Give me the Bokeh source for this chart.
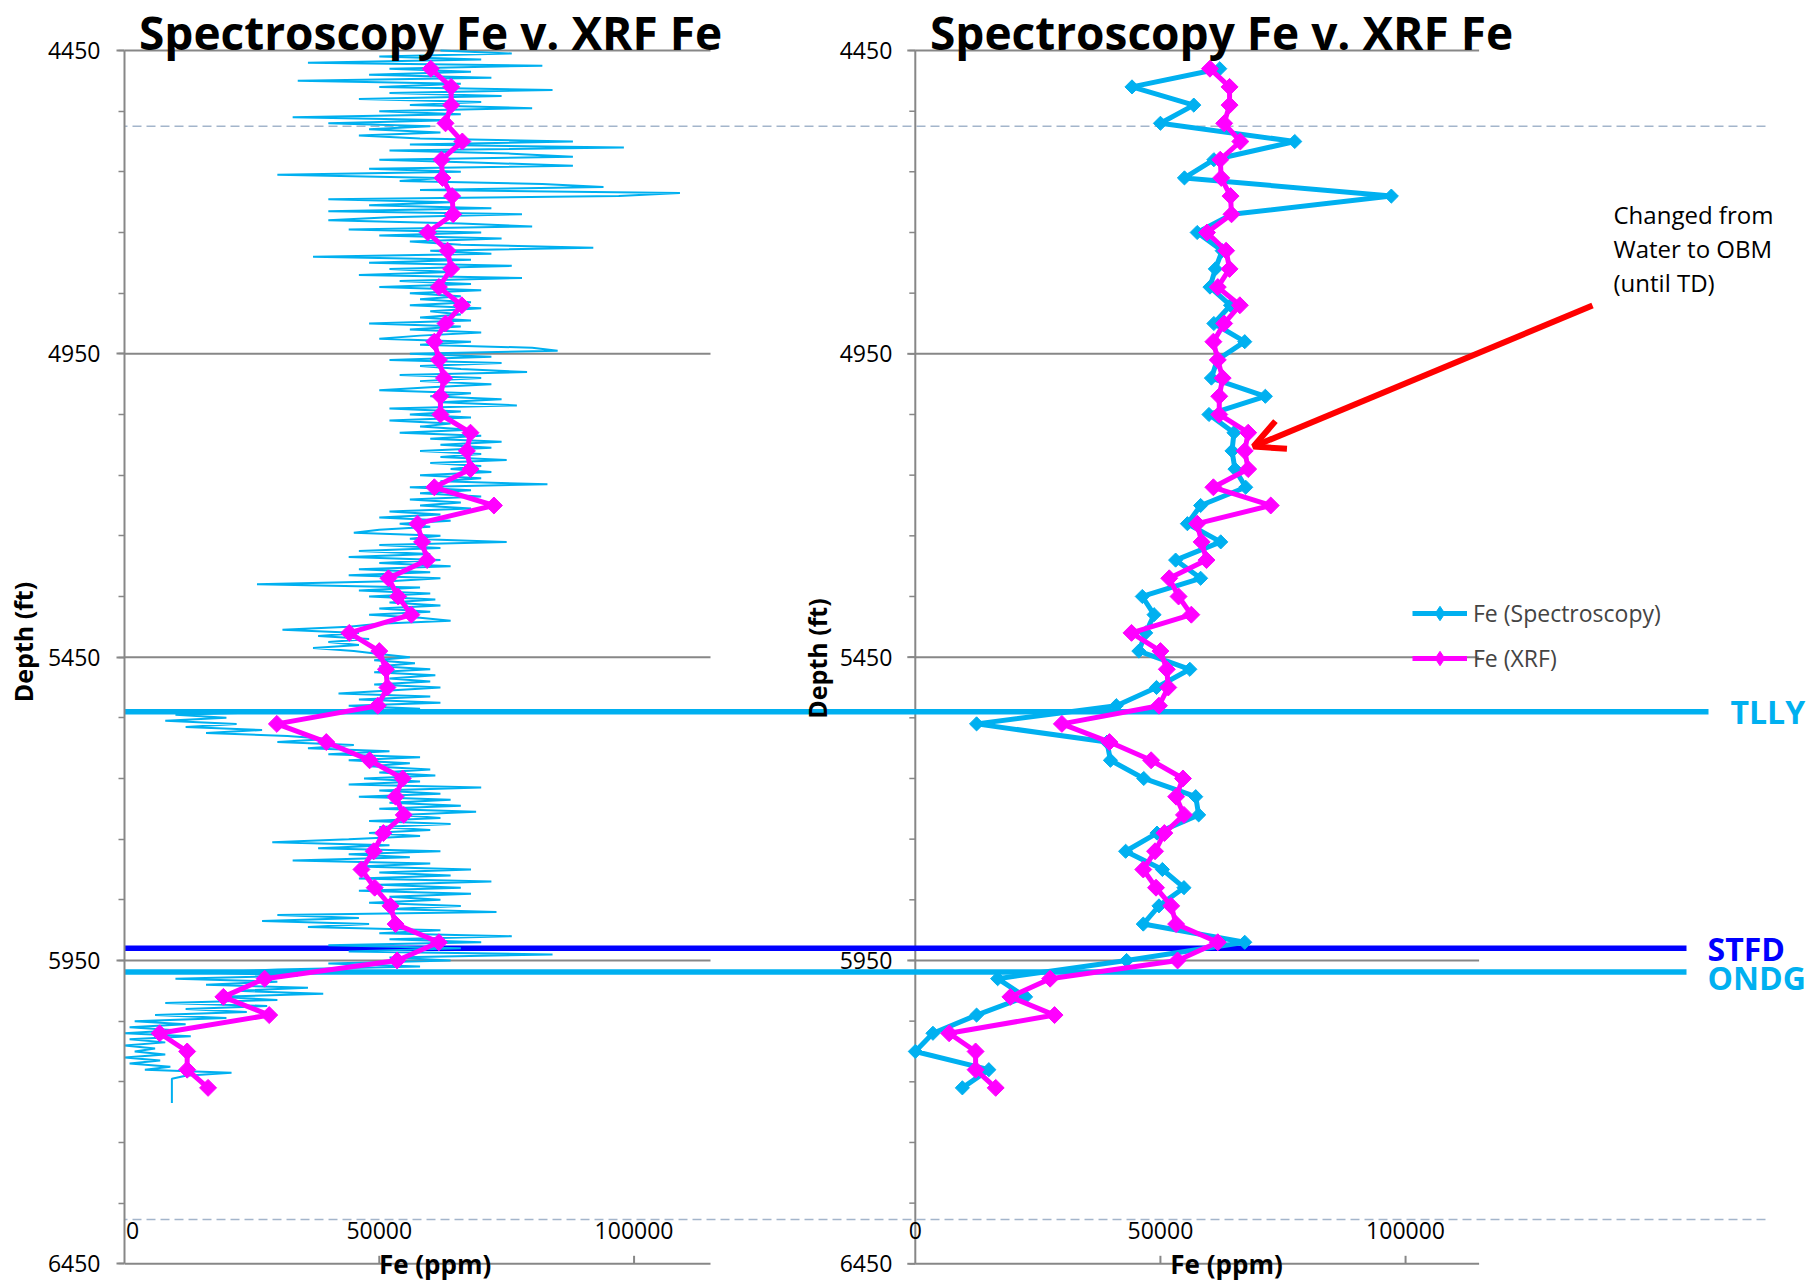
import numpy as np
from bokeh.plotting import figure
from bokeh.models import Range1d, FixedTicker, Legend, LegendItem, Arrow, OpenHead
from bokeh.core.properties import value
from bokeh.embed import file_html
from bokeh.resources import INLINE

# ---------------------------------------------------------------- data
X_MAX = 115000
X_TICKS = [0, 50000, 100000]
X_TICK_LABELS = ["0", "50000", "100000"]
Y_TICKS = [4450, 4950, 5450, 5950, 6450]
Y_TICK_LABELS = ["4450", "4950", "5450", "5950", "6450"]
Y_MINOR = list(range(4450, 6451, 100))

TITLE = "Spectroscopy Fe v. XRF Fe"
X_LABEL = "Fe (ppm)"
Y_LABEL = "Depth (ft)"

# XRF (cuttings) Fe, ppm
XRF_DEPTH = [4480, 4510, 4540, 4570, 4600, 4630, 4660, 4690, 4720, 4750,
             4780, 4810, 4840, 4870, 4900, 4930, 4960, 4990, 5020, 5050,
             5080, 5110, 5140, 5170, 5200, 5230, 5260, 5290, 5320, 5350,
             5380, 5410, 5440, 5470, 5500, 5530, 5560, 5590, 5620, 5650,
             5680, 5710, 5740, 5770, 5800, 5830, 5860, 5890, 5920, 5950,
             5980, 6010, 6040, 6070, 6100, 6130, 6160]
XRF_FE = [60100, 64100, 64100, 63000, 66300, 62200, 62400, 64300, 64500, 59500,
          63400, 64100, 61700, 66200, 63000, 60800, 61700, 62700, 62000, 62000,
          67900, 67200, 67900, 60800, 72500, 57500, 58400, 59400, 51800, 53700,
          56300, 44100, 50000, 51300, 51600, 49700, 29900, 39600, 48100, 54600,
          53200, 54800, 50800, 48900, 46500, 49100, 52200, 53200, 61700, 53500,
          27500, 19400, 28400, 6900, 12300, 12300, 16400]

# Spectroscopy Fe averaged at the XRF sample depths, ppm
SPEC_DEPTH = [4480, 4510, 4540, 4570, 4600, 4630, 4660, 4690, 4720, 4750,
              4780, 4810, 4840, 4870, 4900, 4930, 4960, 4990, 5020, 5050,
              5080, 5110, 5140, 5170, 5200, 5230, 5260, 5290, 5320, 5350,
              5380, 5410, 5440, 5470, 5500, 5530, 5560, 5590, 5620, 5650,
              5680, 5710, 5740, 5770, 5800, 5830, 5860, 5890, 5920, 5950,
              5980, 6010, 6040, 6070, 6100, 6130, 6160]
SPEC_FE = [62100, 44200, 56800, 50000, 77400, 60900, 54900, 97100, 64600, 57500,
           62600, 61200, 60100, 64300, 60900, 67200, 61600, 60400, 71400, 59900,
           65000, 64600, 65200, 67400, 58200, 55500, 62300, 53100, 58200, 46300,
           48700, 47000, 45600, 56000, 49200, 41000, 12500, 39100, 39800, 46600,
           57200, 57800, 49300, 42900, 50400, 54800, 49700, 46500, 67200, 43100,
           16800, 22500, 12500, 3600, 0, 15000, 9600]

# Continuous spectroscopy Fe log (one sample every 5 ft from 4450 ft), ppm
LOG_TOP = 4450
LOG_STEP = 5
LOG_FE = [
    62000, 76000, 50000, 70000, 36000, 82000, 52000, 68000, 48000, 72000,   # 4450
    34000, 66000, 50000, 84000, 52000, 74000, 46000, 70000, 56000, 80000,   # 4500
    50000, 66000, 33000, 64000, 40000, 60000, 48000, 62000, 46000, 58000,   # 4550
    88000, 56000, 98000, 52000, 76000, 88000, 50000, 70000, 88000, 48000,   # 4600
    66000, 30000, 62000, 54000, 82000, 94000, 58000, 109000, 97000, 40000,  # 4650
    64000, 48000, 72000, 40000, 78000, 52000, 40000, 66000, 80000, 44000,   # 4700
    70000, 50000, 74000, 56000, 66000, 92000, 60000, 72000, 37000, 68000,   # 4750
    48000, 76000, 52000, 64000, 46000, 78000, 54000, 68000, 50000, 70000,   # 4800
    56000, 66000, 58000, 68000, 56000, 70000, 60000, 66000, 58000, 68000,   # 4850
    48000, 66000, 56000, 70000, 58000, 50000, 68000, 58000, 80000, 85000,   # 4900
    56000, 72000, 52000, 74000, 58000, 66000, 79000, 54000, 70000, 58000,   # 4950
    72000, 60000, 50000, 68000, 60000, 74000, 62000, 77000, 52000, 66000,   # 5000
    56000, 68000, 52000, 64000, 58000, 68000, 54000, 70000, 60000, 74000,   # 5050
    62000, 72000, 58000, 70000, 62000, 75000, 60000, 70000, 64000, 72000,   # 5100
    58000, 70000, 62000, 83000, 56000, 68000, 58000, 70000, 56000, 66000,   # 5150
    58000, 68000, 52000, 62000, 50000, 64000, 54000, 60000, 50000, 45000,   # 5200
    62000, 56000, 75000, 50000, 62000, 46000, 60000, 44000, 62000, 50000,   # 5250
    64000, 46000, 60000, 44000, 62000, 52000, 26000, 58000, 46000, 60000,   # 5300
    48000, 61000, 52000, 62000, 50000, 60000, 48000, 58000, 64000, 50000,   # 5350
    44000, 31000, 46000, 38000, 48000, 40000, 46000, 37000, 45000, 50000,   # 5400
    56000, 49000, 57000, 50000, 60000, 49000, 61000, 52000, 60000, 49000,   # 5450
    62000, 52000, 42000, 60000, 46000, 62000, 44000, 58000, 30000, 10000,   # 5500
    20000, 8000, 22000, 12000, 27000, 16000, 32000, 40000, 30000, 45000,    # 5550
    36000, 52000, 40000, 58000, 44000, 56000, 48000, 60000, 50000, 61000,   # 5600
    47000, 58000, 44000, 70000, 50000, 62000, 46000, 64000, 52000, 66000,   # 5650
    50000, 69000, 54000, 62000, 48000, 64000, 50000, 60000, 48000, 58000,   # 5700
    44000, 29000, 52000, 38000, 62000, 44000, 56000, 33000, 60000, 46000,   # 5750
    68000, 50000, 64000, 46000, 72000, 50000, 66000, 46000, 68000, 52000,   # 5800
    62000, 48000, 66000, 52000, 73000, 30000, 46000, 27000, 48000, 36000,   # 5850
    62000, 50000, 76000, 52000, 70000, 40000, 66000, 44000, 84000, 52000,   # 5900
    64000, 40000, 58000, 30000, 16000, 34000, 10000, 30000, 16000, 36000,   # 5950
    22000, 39000, 18000, 30000, 8000, 28000, 12000, 24000, 6000, 20000,     # 6000
    2000, 12000, 1000, 10000, 0, 13000, 1000, 8000, 0, 6000,                # 6050
    2000, 8000, 0, 7000, 1000, 9000, 4000, 21000, 12000, 9300,              # 6100
    9300, 9300, 9300, 9300, 9300, 9300, 9300, 9300,                         # 6150
]

FORMATIONS = ["TLLY", "STFD", "ONDG"]
FORMATION_DEPTH = [5540, 5930, 5969]
GUIDE_DEPTH = [4575, 6377]

SERIES_NAMES = ["Fe (Spectroscopy)", "Fe (XRF)"]
NOTE_LINES = ["Changed from", "Water to OBM", "(until TD)"]

# ---------------------------------------------------------------- styles / layout
CYAN = "#00b0f0"
MAGENTA = "#ff00ff"
DEEP_BLUE = "#0000ff"
GRAY = "#878787"
GUIDE = "#a3b5cb"
FORMATION_COLOR = [CYAN, DEEP_BLUE, CYAN]
FONT = "Open Sans"

# the page template has no body margin: canvas origin = page origin
W, H = 1814, 1283
BORDER_LEFT = 124
FRAME_L, FRAME_R = BORDER_LEFT, W
FRAME_T, FRAME_B = 0, H

# reference-picture geometry of the two panels (page pixels)
L_X0, L_X1 = 124.0, 710.0
R_X0, R_X1 = 914.8, 1478.6
Y_PX0, Y_PX1 = 50.0, 1263.3
D0, D1 = Y_TICKS[0], Y_TICKS[-1]


def lx(px):
    return (px - L_X0) * X_MAX / (L_X1 - L_X0)


def rx(px):
    return (px - R_X0) * X_MAX / (R_X1 - R_X0)


def dpt(py):
    return D0 + (py - Y_PX0) * (D1 - D0) / (Y_PX1 - Y_PX0)


p = figure(width=W, height=H,
           x_range=Range1d(lx(FRAME_L), lx(FRAME_R)),
           y_range=Range1d(dpt(FRAME_B), dpt(FRAME_T)),
           output_backend="svg", toolbar_location=None,
           x_axis_location=None, y_axis_location="left",
           min_border_left=BORDER_LEFT, min_border_right=0,
           min_border_top=0, min_border_bottom=0)
p.extra_x_ranges = {"right": Range1d(rx(FRAME_L), rx(FRAME_R))}
p.outline_line_color = None
p.grid.visible = False
p.background_fill_color = "white"
p.border_fill_color = "white"

# real depth axis of the left panel
ax = p.yaxis[0]
ax.ticker = FixedTicker(ticks=Y_TICKS, minor_ticks=Y_MINOR)
ax.bounds = (D0, D1)
ax.axis_line_color = GRAY
ax.axis_line_width = 2
ax.major_tick_line_color = GRAY
ax.major_tick_line_width = 2
ax.major_tick_out = 8
ax.major_tick_in = 0
ax.minor_tick_line_color = GRAY
ax.minor_tick_line_width = 1.5
ax.minor_tick_out = 6
ax.minor_tick_in = 0
ax.major_label_text_font = FONT
ax.major_label_text_font_size = "23px"
ax.major_label_text_color = "black"
ax.major_label_standoff = 16
ax.axis_label = Y_LABEL
ax.axis_label_text_font = FONT
ax.axis_label_text_font_size = "25px"
ax.axis_label_text_font_style = "bold"
ax.axis_label_text_color = "black"
ax.axis_label_standoff = 5

# slide guides (dashed)
p.segment(x0=lx(FRAME_L - 20), x1=lx(1768), y0=GUIDE_DEPTH, y1=GUIDE_DEPTH,
          line_color=GUIDE, line_width=1.5, line_dash="9 5")

# gridlines + x-axis lines of both panels
for rng in ("default", "right"):
    p.segment(x0=0, x1=X_MAX, y0=Y_TICKS, y1=Y_TICKS, line_color=GRAY,
              line_width=2, x_range_name=rng)
    p.ray(x=X_TICKS[1:], y=D1, length=8, angle=np.pi / 2, length_units="screen",
          line_color=GRAY, line_width=2, x_range_name=rng)

# depth axis of the right panel
p.segment(x0=[0], x1=[0], y0=[D0], y1=[D1], line_color=GRAY, line_width=2,
          x_range_name="right")
p.ray(x=0, y=Y_MINOR, length=6, angle=np.pi, length_units="screen",
      line_color=GRAY, line_width=1.5, x_range_name="right")
p.ray(x=0, y=Y_TICKS, length=8, angle=np.pi, length_units="screen",
      line_color=GRAY, line_width=2, x_range_name="right")

# formation tops
p.segment(x0=lx(FRAME_L - 20), x1=[lx(1708), lx(1686), lx(1686)],
          y0=FORMATION_DEPTH, y1=FORMATION_DEPTH, line_color=FORMATION_COLOR,
          line_width=5.5)

# left panel: continuous log + XRF
log_depth = LOG_TOP + LOG_STEP * np.arange(len(LOG_FE))
p.line(LOG_FE, log_depth, line_color=CYAN, line_width=2)
p.line(XRF_FE, XRF_DEPTH, line_color=MAGENTA, line_width=5)
p.scatter(XRF_FE, XRF_DEPTH, marker="square", angle=np.pi / 4, size=12,
          fill_color=MAGENTA, line_color=MAGENTA)

# right panel: averaged spectroscopy + XRF
rb_line = p.line(SPEC_FE, SPEC_DEPTH, line_color=CYAN, line_width=5, x_range_name="right")
p.scatter(SPEC_FE, SPEC_DEPTH, marker="square", angle=np.pi / 4, size=10,
          fill_color=CYAN, line_color=CYAN, x_range_name="right")
rm_line = p.line(XRF_FE, XRF_DEPTH, line_color=MAGENTA, line_width=5, x_range_name="right")
p.scatter(XRF_FE, XRF_DEPTH, marker="square", angle=np.pi / 4, size=12,
          fill_color=MAGENTA, line_color=MAGENTA, x_range_name="right")
# diamond swatches used only by the legend (a single undrawable NaN point)
nan_pt = np.array([np.nan])
leg_b = p.scatter(x=nan_pt, y=nan_pt, marker="diamond", fill_color=CYAN, line_color=CYAN,
                  x_range_name="right")
leg_m = p.scatter(x=nan_pt, y=nan_pt, marker="diamond", fill_color=MAGENTA,
                  line_color=MAGENTA, x_range_name="right")


def txt(x, y, t, size, bold=False, color="black", align="center", baseline="middle",
        rng="default", **kw):
    return p.text(x=x, y=y, text=t, text_font=value(FONT), text_font_size=f"{size}px",
                  text_font_style="bold" if bold else "normal", text_color=color,
                  text_align=align, text_baseline=baseline, x_range_name=rng, **kw)


# titles
txt([lx(430)], [dpt(31)], [TITLE], 46, bold=True)
txt([rx(1221)], [dpt(31)], [TITLE], 46, bold=True, rng="right")

# x tick labels (drawn above the axis line, as in the slide) and x titles
txt(X_TICKS, [D1] * len(X_TICKS), X_TICK_LABELS, 23, y_offset=-33, x_offset=[8, 0, 0])
txt(X_TICKS, [D1] * len(X_TICKS), X_TICK_LABELS, 23, rng="right", y_offset=-33)
txt([lx(434.6)], [dpt(1263)], [X_LABEL], 26, bold=True)
txt([rx(1226)], [dpt(1263)], [X_LABEL], 26, bold=True, rng="right")

# right panel depth labels
txt([0] * len(Y_TICKS), Y_TICKS, Y_TICK_LABELS, 23, align="right", rng="right", x_offset=-23)
txt([0], [dpt(658)], [Y_LABEL], 25, bold=True, rng="right", x_offset=-98, angle=np.pi / 2)

# formation names
txt([lx(1730), lx(1707), lx(1707)], [dpt(711), dpt(948), dpt(977)], FORMATIONS, 32,
    bold=True, color=FORMATION_COLOR, align="left")

# note + arrow
txt([rx(1613)] * 3, [dpt(214), dpt(248), dpt(282)], NOTE_LINES, 24, align="left", rng="right")
p.add_layout(Arrow(end=OpenHead(size=30, line_color="red", line_width=6),
                   x_start=rx(1592), y_start=dpt(305), x_end=rx(1253), y_end=dpt(446),
                   line_color="red", line_width=6, x_range_name="right"))

legend = Legend(items=[LegendItem(label=SERIES_NAMES[0], renderers=[rb_line, leg_b]),
                       LegendItem(label=SERIES_NAMES[1], renderers=[rm_line, leg_m])],
                location=(1412 - FRAME_L, FRAME_B - 676), orientation="vertical",
                glyph_width=55, glyph_height=36, label_height=36, spacing=9,
                padding=0, margin=0, label_standoff=6,
                label_text_font=FONT, label_text_font_size="23px",
                border_line_color=None, background_fill_alpha=0)
p.add_layout(legend)

open("out.html", "w").write(file_html(p, INLINE))
